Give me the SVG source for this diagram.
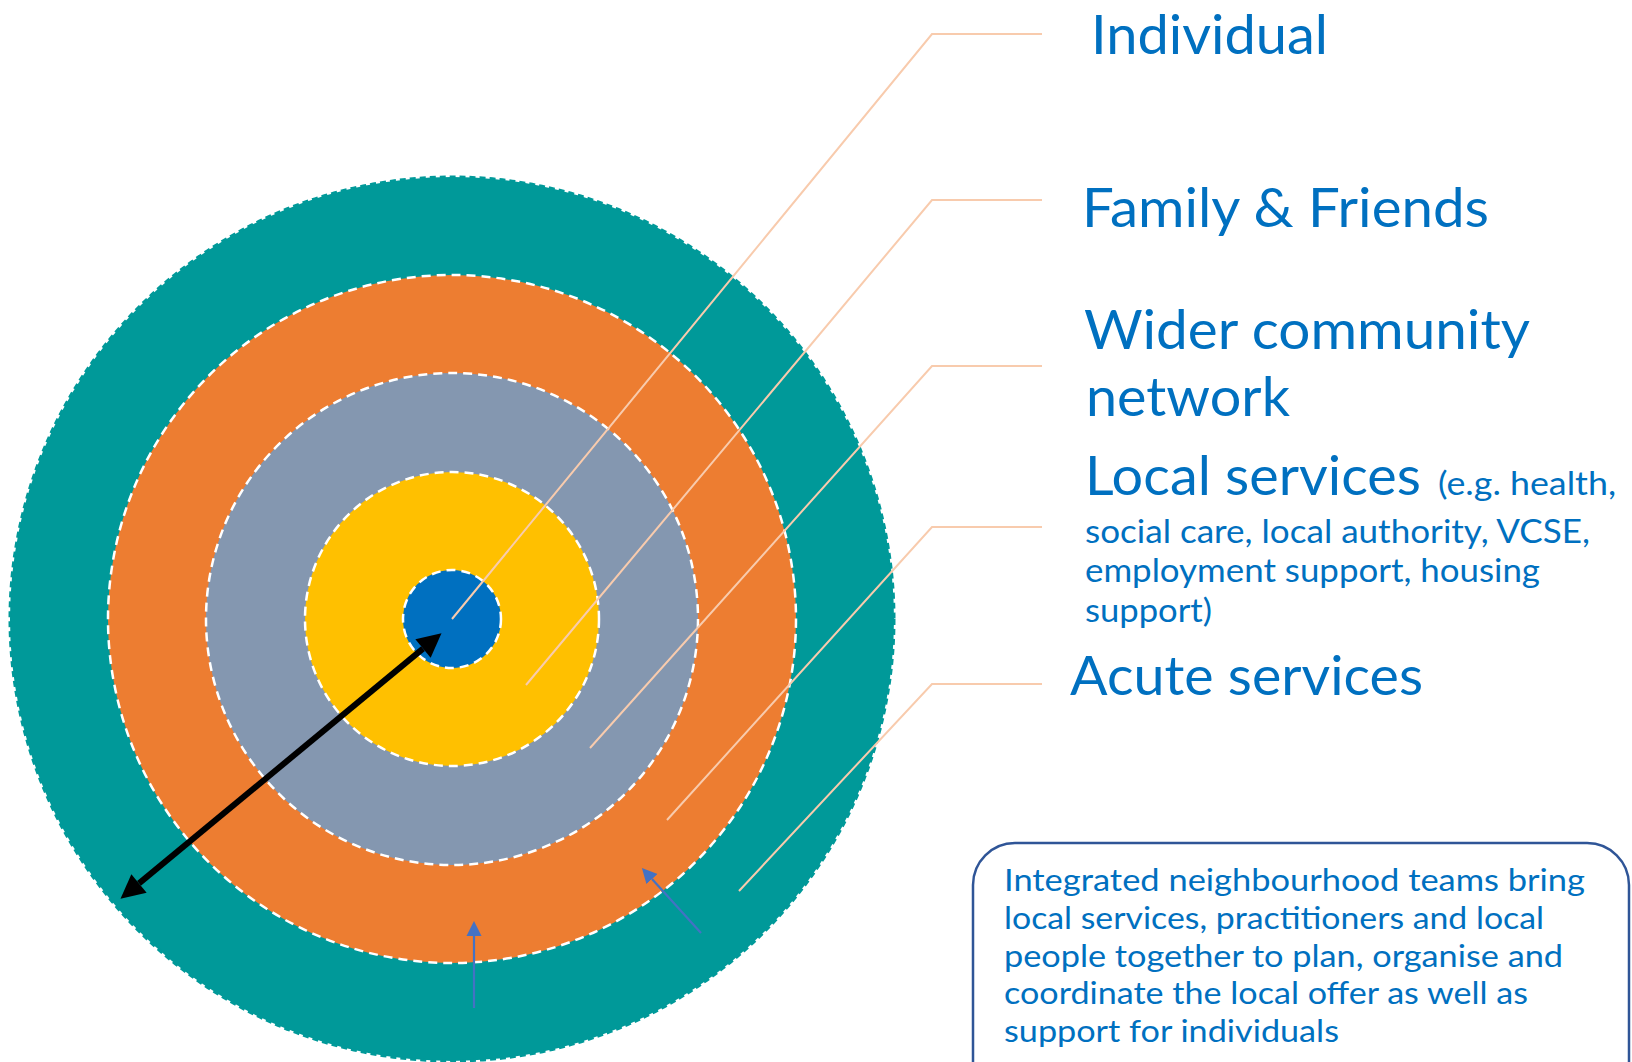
<svg xmlns="http://www.w3.org/2000/svg" width="1632" height="1062" viewBox="0 0 1632 1062">
<style>
  .ring { stroke: #ffffff; stroke-width: 2.5; stroke-dasharray: 9 6; }
  .leader { fill: none; stroke: #F8CBAD; stroke-width: 2; }
  .lbl { font-family: Lato, "Open Sans", sans-serif; fill: #0070C0; }
  .big { font-size: 54px; }
  .small { font-size: 32px; }
  .box { font-size: 31px; }
</style>
<defs>
  <marker id="blackHead" viewBox="0 0 10 10" refX="0" refY="5" markerUnits="userSpaceOnUse" markerWidth="26" markerHeight="24" orient="auto-start-reverse">
    <path d="M0,0 L10,5 L0,10 z" fill="#000000"/>
  </marker>
  <marker id="blueHead" viewBox="0 0 10 10" refX="0" refY="5" markerUnits="userSpaceOnUse" markerWidth="15" markerHeight="16" orient="auto">
    <path d="M0,0 L10,5 L0,10 z" fill="#4472C4"/>
  </marker>
</defs>

<g id="rings">
  <g id="acute-ring"><circle cx="452" cy="619" r="442" fill="#009999" stroke="#009999" stroke-width="3" stroke-dasharray="6 4"/></g>
  <g id="local-ring"><circle cx="452" cy="619" r="344" fill="#ED7D31" class="ring"/></g>
  <g id="wider-ring"><circle cx="452" cy="619" r="246" fill="#8497B0" class="ring"/></g>
  <g id="family-ring"><circle cx="452" cy="619" r="147" fill="#FFC000" class="ring"/></g>
  <g id="individual-ring"><circle cx="452" cy="619" r="49" fill="#0070C0" class="ring"/></g>
</g>

<g id="connectors">
  <polyline class="leader" points="1042,34 932,34 452,619"/>
  <polyline class="leader" points="1042,200 932,200 526,685"/>
  <polyline class="leader" points="1042,366 932,366 590,748"/>
  <polyline class="leader" points="1042,527 932,527 667,820"/>
  <polyline class="leader" points="1042,684 932,684 739,891"/>
  <line x1="139" y1="883.4" x2="423" y2="648.6" stroke="#000000" stroke-width="6" marker-start="url(#blackHead)" marker-end="url(#blackHead)"/>
  <line x1="474" y1="1008" x2="474" y2="936" stroke="#4472C4" stroke-width="2.2" marker-end="url(#blueHead)"/>
  <line x1="701" y1="933" x2="652" y2="879" stroke="#4472C4" stroke-width="2.2" marker-end="url(#blueHead)"/>
</g>

<g id="label-individual">
  <text class="lbl big" x="1091" y="54" textLength="237" lengthAdjust="spacingAndGlyphs">Individual</text>
</g>
<g id="label-family">
  <text class="lbl big" x="1082" y="227" textLength="407" lengthAdjust="spacingAndGlyphs">Family &amp; Friends</text>
</g>
<g id="label-wider">
  <text class="lbl big" x="1084" y="349" textLength="446" lengthAdjust="spacingAndGlyphs">Wider community</text>
  <text class="lbl big" x="1086" y="416" textLength="204" lengthAdjust="spacingAndGlyphs">network</text>
</g>
<g id="label-local">
  <text class="lbl big" x="1085" y="495" textLength="336" lengthAdjust="spacingAndGlyphs">Local services</text>
  <text class="lbl small" x="1438" y="495" textLength="178" lengthAdjust="spacingAndGlyphs">(e.g. health,</text>
  <text class="lbl small" x="1085" y="543" textLength="505" lengthAdjust="spacingAndGlyphs">social care, local authority, VCSE,</text>
  <text class="lbl small" x="1085" y="582" textLength="455" lengthAdjust="spacingAndGlyphs">employment support, housing</text>
  <text class="lbl small" x="1085" y="622" textLength="127" lengthAdjust="spacingAndGlyphs">support)</text>
</g>
<g id="label-acute">
  <text class="lbl big" x="1070" y="695" textLength="353" lengthAdjust="spacingAndGlyphs">Acute services</text>
</g>

<g id="info-box">
  <rect x="973" y="843" width="656" height="260" rx="42" ry="42" fill="#ffffff" stroke="#2F5597" stroke-width="2.5"/>
  <text class="lbl box" x="1004" y="891" textLength="581" lengthAdjust="spacingAndGlyphs">Integrated neighbourhood teams bring</text>
  <text class="lbl box" x="1004" y="929" textLength="540" lengthAdjust="spacingAndGlyphs">local services, practitioners and local</text>
  <text class="lbl box" x="1004" y="967" textLength="559" lengthAdjust="spacingAndGlyphs">people together to plan, organise and</text>
  <text class="lbl box" x="1004" y="1004" textLength="524" lengthAdjust="spacingAndGlyphs">coordinate the local offer as well as</text>
  <text class="lbl box" x="1004" y="1042" textLength="335" lengthAdjust="spacingAndGlyphs">support for individuals</text>
</g>
</svg>
